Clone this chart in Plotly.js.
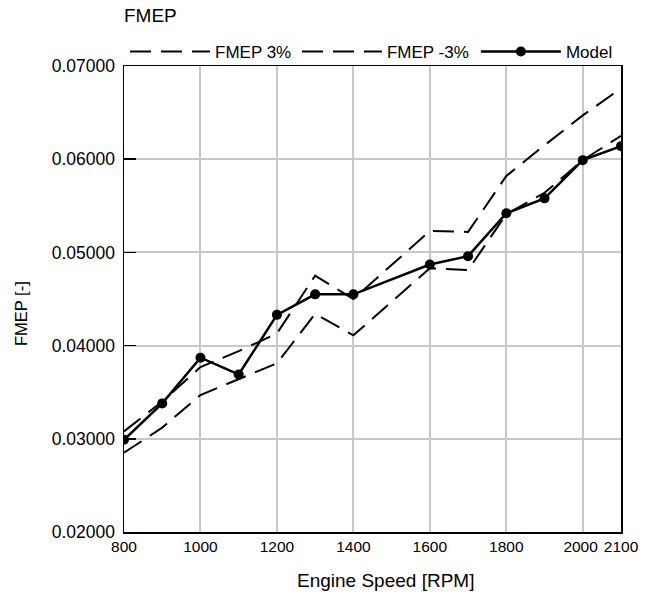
<!DOCTYPE html>
<html>
<head>
<meta charset="utf-8">
<script src="https://cdn.plot.ly/plotly-3.0.1.min.js"></script>
<style>
  html, body { margin: 0; padding: 0; background: #fff; }
  #chart { width: 648px; height: 606px; }
</style>
</head>
<body>
<div id="chart"></div>
<script>
// Engine speed sweep (RPM)
const speedRpm = [800, 900, 1000, 1100, 1200, 1300, 1400, 1600, 1700, 1800, 1900, 2000, 2100];

// Friction mean effective pressure bands and model curve
const fmepPlus3 = [0.0308, 0.0340, 0.0377, 0.0394, 0.0413, 0.0475, 0.0450, 0.0523, 0.0522, 0.0582, 0.0615, 0.0647, 0.0676];
const fmepMinus3 = [0.0285, 0.0312, 0.0347, 0.0364, 0.0381, 0.0434, 0.0411, 0.0483, 0.0481, 0.0541, 0.0564, 0.0599, 0.0625];
const fmepModel = [0.0299, 0.0338, 0.0387, 0.0369, 0.0433, 0.0455, 0.0455, 0.0487, 0.0496, 0.0542, 0.0558, 0.0599, 0.0614];

const xTicks = [800, 1000, 1200, 1400, 1600, 1800, 2000, 2100];
const yTicks = [0.02, 0.03, 0.04, 0.05, 0.06, 0.07];

const FONT = '"Liberation Sans", Arial, sans-serif';
const NBSP = '\u00a0';

// The last two ticks sit close together, so nudge the 2000 label left a little
const xTickText = xTicks.map(v => (v === 2000 ? String(v) + NBSP : String(v)));

const traces = [
  {
    x: speedRpm, y: fmepPlus3, name: 'FMEP 3%', mode: 'lines', legend: 'legend',
    line: { color: '#000', width: 2, dash: '21px,10px' }
  },
  {
    x: speedRpm, y: fmepMinus3, name: 'FMEP -3%', mode: 'lines', legend: 'legend2',
    line: { color: '#000', width: 2, dash: '21px,10px' }
  },
  {
    x: speedRpm, y: fmepModel, name: 'Model', mode: 'lines+markers', legend: 'legend3',
    line: { color: '#000', width: 2.5 },
    marker: { color: '#000', size: 10 }
  }
];

const legendBase = {
  orientation: 'h', xanchor: 'left', y: 1.03, yanchor: 'middle',
  font: { family: FONT, size: 17, color: '#000' },
  bgcolor: 'rgba(0,0,0,0)', itemwidth: 80
};

const layout = {
  width: 648, height: 606,
  paper_bgcolor: '#fff', plot_bgcolor: '#fff',
  margin: { l: 124, r: 27, t: 66, b: 74 },
  font: { family: FONT, color: '#000', size: 16 },
  title: {
    text: 'FMEP', x: 0, xref: 'paper', xanchor: 'left',
    y: 0.985, yref: 'container', yanchor: 'top',
    font: { family: FONT, size: 19, color: '#000' }
  },
  showlegend: true,
  legend: Object.assign({}, legendBase, { x: 0.002 }),
  legend2: Object.assign({}, legendBase, { x: 0.348 }),
  legend3: Object.assign({}, legendBase, { x: 0.708 }),
  xaxis: {
    range: [800, 2100], tickvals: xTicks, ticktext: xTickText,
    tickangle: 0,
    showgrid: true, gridcolor: '#c8c8c8', gridwidth: 2,
    showline: true, linecolor: '#000', linewidth: 1.5, mirror: true,
    ticks: '', zeroline: false,
    tickfont: { family: FONT, size: 15.5 }
  },
  yaxis: {
    range: [0.02, 0.07], tickvals: yTicks, tickformat: '.5f',
    showgrid: true, gridcolor: '#c8c8c8', gridwidth: 2,
    showline: true, linecolor: '#000', linewidth: 1.5, mirror: true,
    ticks: 'inside', ticklen: 12, tickcolor: '#000', tickwidth: 1.5,
    ticklabelstandoff: 4,
    zeroline: false,
    tickfont: { family: FONT, size: 17.5 }
  },
  // Axis titles placed as annotations so they can sit slightly off-centre
  annotations: [
    {
      text: 'Engine Speed [RPM]', xref: 'paper', yref: 'paper',
      x: 0.527, y: 0, xanchor: 'center', yanchor: 'middle', yshift: -48,
      showarrow: false, font: { family: FONT, size: 19, color: '#000' }
    },
    {
      text: 'FMEP [-]', xref: 'paper', yref: 'paper', textangle: -90,
      x: 0, y: 0.5, xanchor: 'center', yanchor: 'middle', xshift: -103, yshift: -15,
      showarrow: false, font: { family: FONT, size: 16.5, color: '#000' }
    }
  ]
};

Plotly.newPlot('chart', traces, layout, { staticPlot: true, displayModeBar: false });
</script>
</body>
</html>
